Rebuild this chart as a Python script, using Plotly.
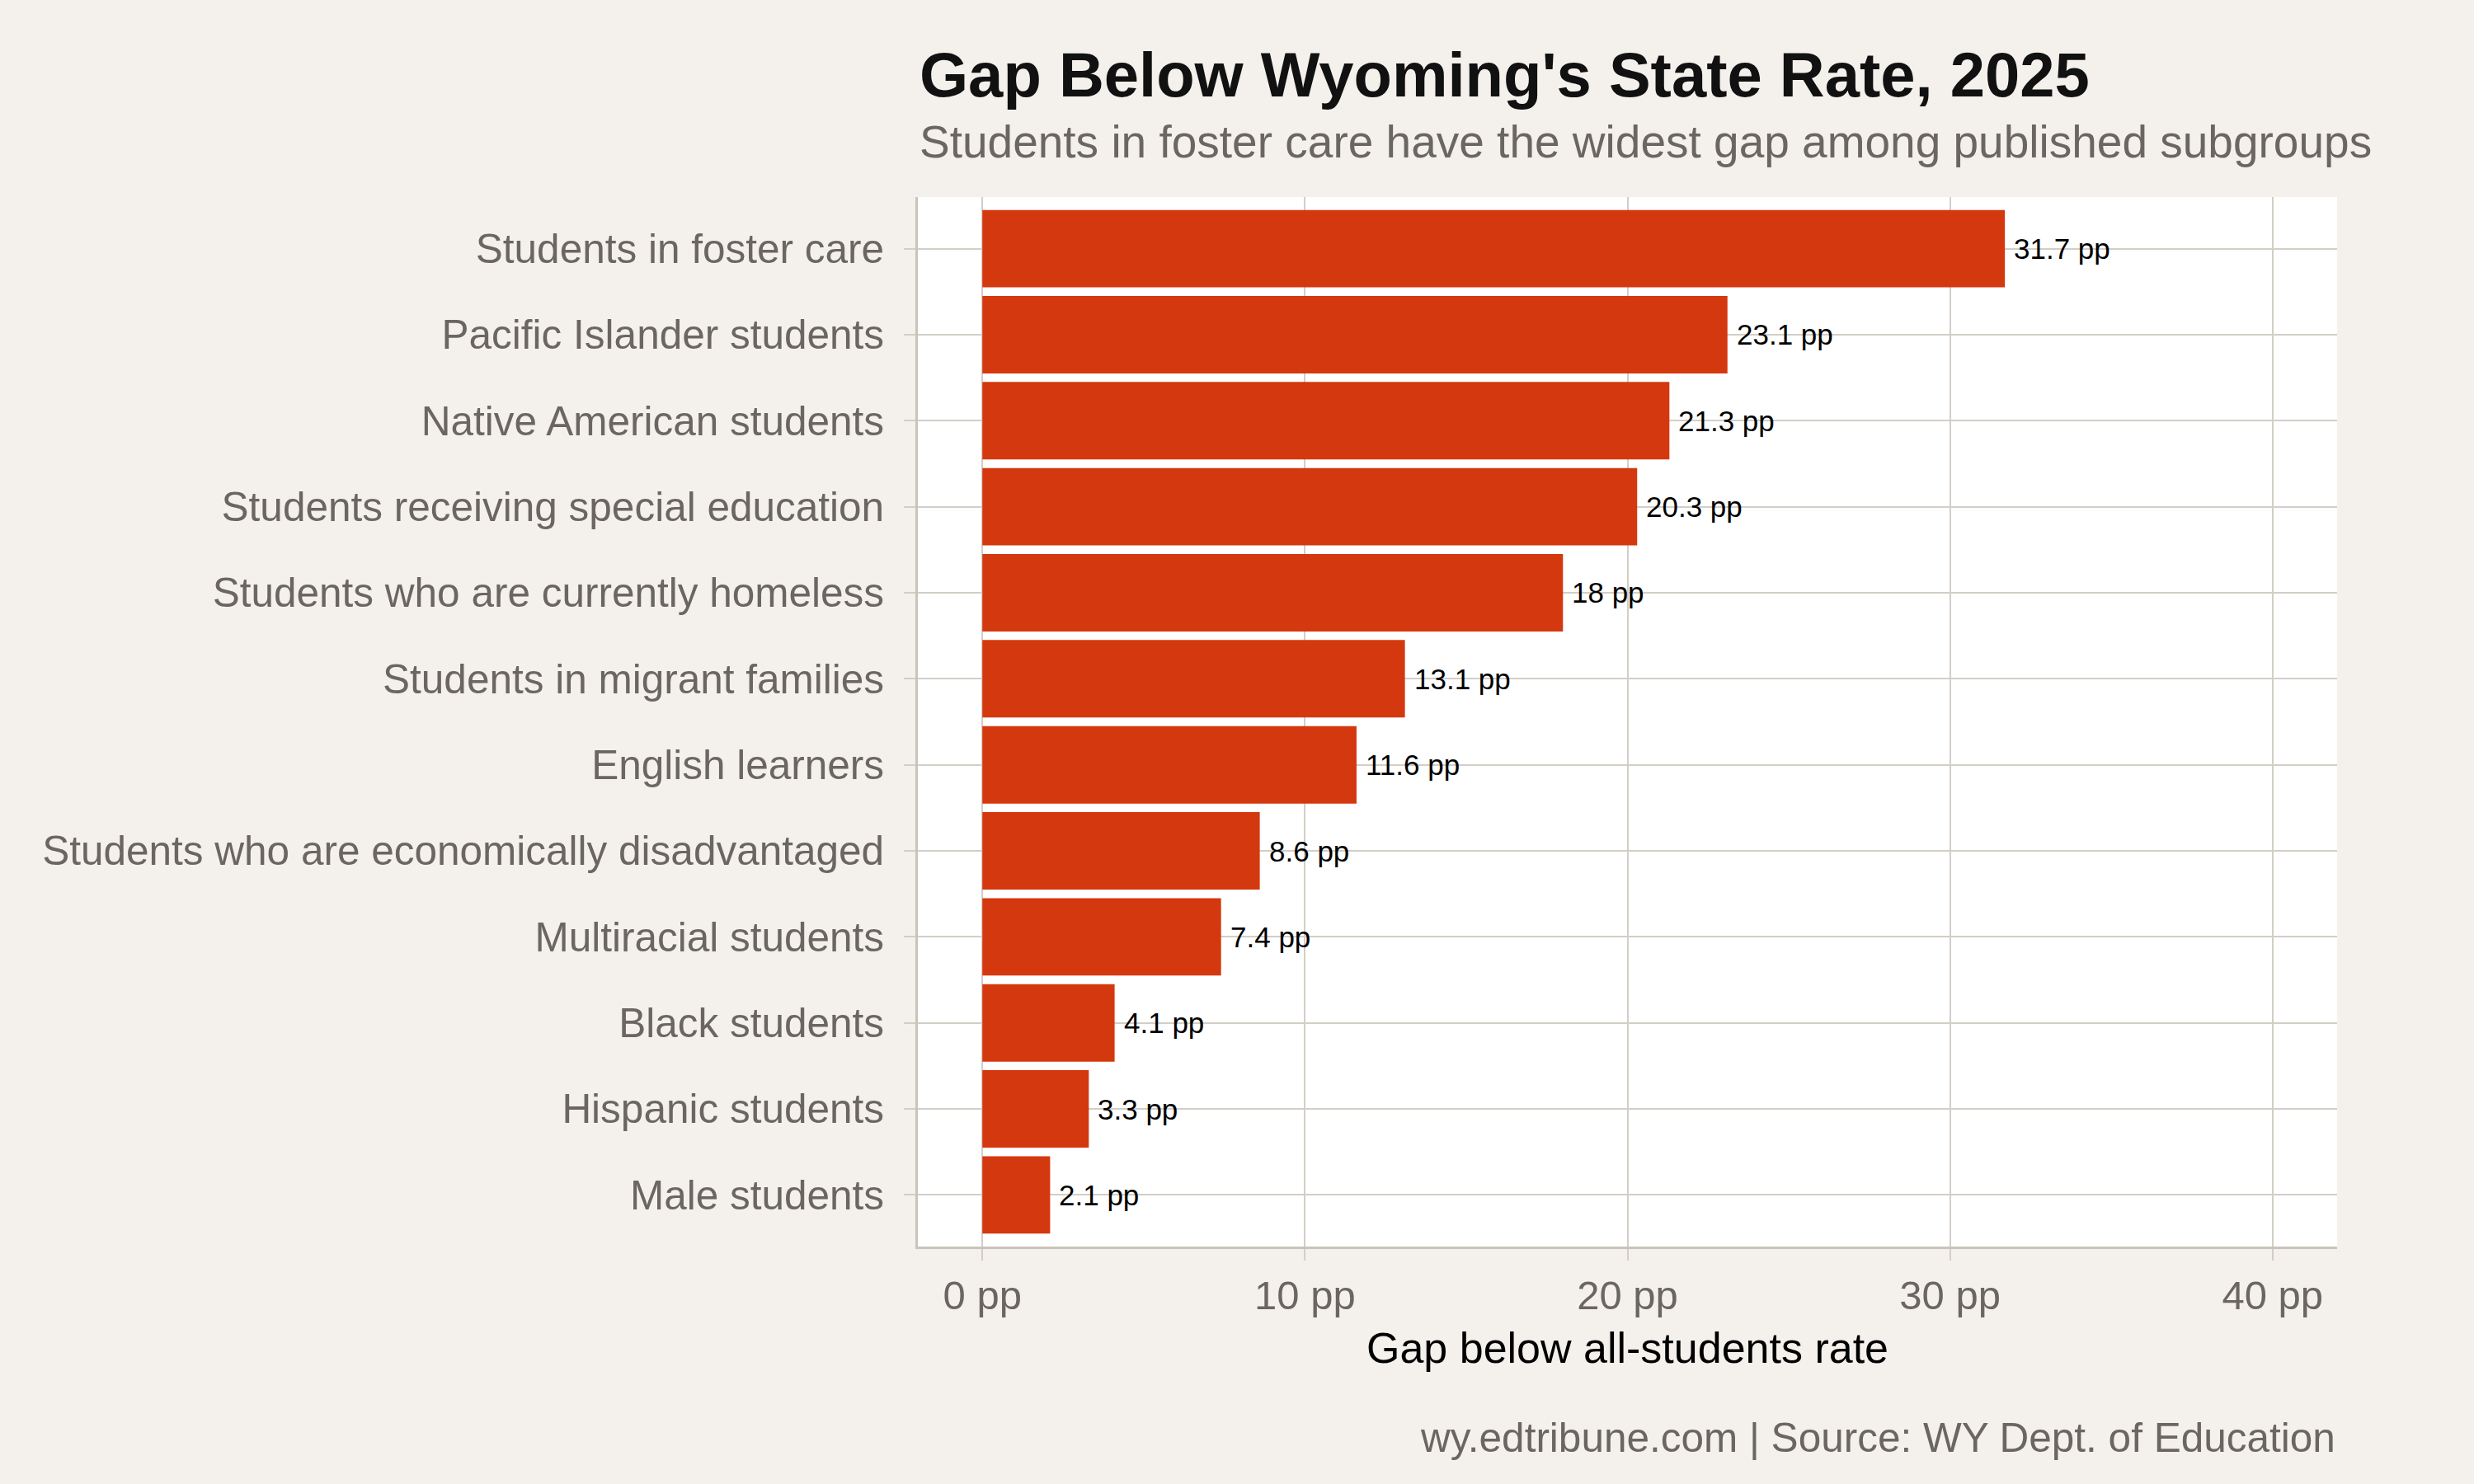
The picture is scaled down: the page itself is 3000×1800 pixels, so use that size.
import plotly.graph_objects as go

# Gap below the all-students rate, 2025 (percentage points)
subgroups = [
    "Students in foster care",
    "Pacific Islander students",
    "Native American students",
    "Students receiving special education",
    "Students who are currently homeless",
    "Students in migrant families",
    "English learners",
    "Students who are economically disadvantaged",
    "Multiracial students",
    "Black students",
    "Hispanic students",
    "Male students",
]
gap_pp = [31.7, 23.1, 21.3, 20.3, 18, 13.1, 11.6, 8.6, 7.4, 4.1, 3.3, 2.1]
x_ticks = [0, 10, 20, 30, 40]

BG = "#F4F1EC"
BAR = "#D4380E"
GRID = "#D3CEC6"
AXIS = "#C9C3BA"
GREY = "#6B6760"
FONT = "Liberation Sans"

fig = go.Figure(
    go.Bar(
        x=gap_pp,
        y=subgroups,
        orientation="h",
        width=0.9,
        marker=dict(color=BAR, line=dict(width=0)),
        hoverinfo="skip",
    )
)

# value labels just past the bar ends
for name, val in zip(subgroups, gap_pp):
    fig.add_annotation(
        x=val, y=name, text=f"{val:g} pp", showarrow=False,
        xanchor="left", yanchor="middle", xshift=9,
        font=dict(family=FONT, size=35, color="#000000"),
    )

fig.add_annotation(
    text="<b>Gap Below Wyoming's State Rate, 2025</b>",
    xref="paper", yref="paper", x=0, y=1.117,
    xanchor="left", yanchor="middle", showarrow=False,
    font=dict(family=FONT, size=76, color="#111111"),
)
fig.add_annotation(
    text="Students in foster care have the widest gap among published subgroups",
    xref="paper", yref="paper", x=0, y=1.0527,
    xanchor="left", yanchor="middle", showarrow=False,
    font=dict(family=FONT, size=55, color=GREY),
)
fig.add_annotation(
    text="wy.edtribune.com | Source: WY Dept. of Education",
    xref="paper", yref="paper", x=1, y=-0.182,
    xanchor="right", yanchor="middle", showarrow=False,
    font=dict(family=FONT, size=49.5, color=GREY),
)

fig.update_xaxes(
    range=[-2, 42],
    tickvals=x_ticks,
    ticktext=[f"{t} pp" for t in x_ticks],
    showgrid=True, gridcolor=GRID, gridwidth=2,
    zeroline=False,
    showline=True, linecolor=AXIS, linewidth=3,
    ticks="outside", ticklen=14, tickwidth=2, tickcolor=GRID,
    tickfont=dict(family=FONT, size=49, color=GREY),
    title=dict(text="Gap below all-students rate", standoff=20,
               font=dict(family=FONT, size=52, color="#000000")),
)
fig.update_yaxes(
    categoryorder="array",
    categoryarray=subgroups,
    range=[11.6, -0.6],
    showgrid=True, gridcolor=GRID, gridwidth=2,
    zeroline=False,
    showline=True, linecolor=AXIS, linewidth=3,
    ticks="outside", ticklen=14, tickwidth=2, tickcolor=GRID,
    tickfont=dict(family=FONT, size=49.5, color=GREY),
    ticklabelstandoff=14,
)

fig.update_layout(
    width=3000,
    height=1800,
    margin=dict(l=1113, r=166, t=239, b=288),
    paper_bgcolor=BG,
    plot_bgcolor="#FFFFFF",
    showlegend=False,
    bargap=0.1,
    font=dict(family=FONT),
)

# drop the browser's default page margin so the figure fills the window
fig.write_html(
    "out.html",
    config={"displayModeBar": False},
    post_script="document.body.style.margin='0';"
                "document.body.style.background='" + BG + "';",
)
